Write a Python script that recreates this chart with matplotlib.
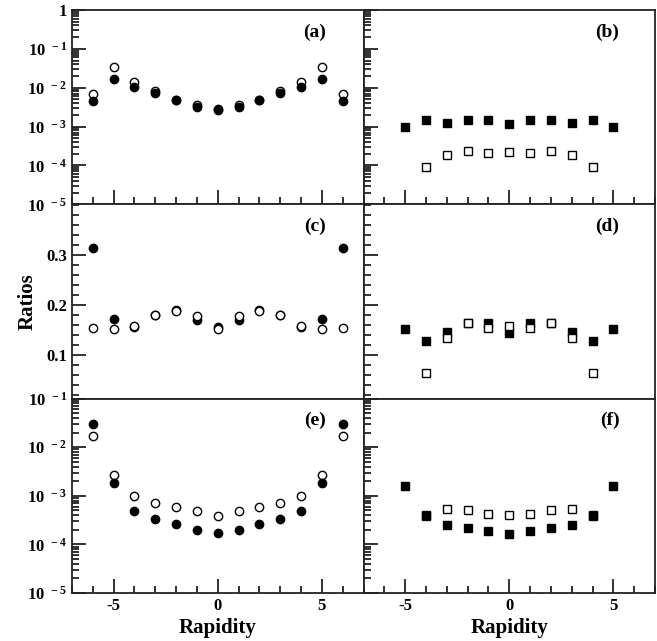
import math
import matplotlib
matplotlib.use("Agg")
import matplotlib.pyplot as plt
from matplotlib.ticker import FixedLocator, LogLocator, MultipleLocator, FuncFormatter, NullFormatter

plt.rcParams['font.family'] = ['Liberation Serif', 'DejaVu Serif']
plt.rcParams['font.weight'] = 'bold'
plt.rcParams['mathtext.fontset'] = 'custom'
plt.rcParams['mathtext.rm'] = 'Liberation Serif:bold'
plt.rcParams['mathtext.bf'] = 'Liberation Serif:bold'

# rapidity bins
y_c = [-6, -5, -4, -3, -2, -1, 0, 1, 2, 3, 4, 5, 6]
y_s = [-5, -4, -3, -2, -1, 0, 1, 2, 3, 4, 5]
y_s_open = [-4, -3, -2, -1, 0, 1, 2, 3, 4]

# (a)
a_full = [4.5e-3, 0.0164, 0.0102, 7.4e-3, 4.8e-3, 3.2e-3, 2.75e-3, 3.2e-3, 4.8e-3, 7.4e-3, 0.0102, 0.0164, 4.5e-3]
a_open = [6.8e-3, 0.0346, 0.0142, 8.3e-3, 4.8e-3, 3.6e-3, 2.8e-3, 3.6e-3, 4.8e-3, 8.3e-3, 0.0142, 0.0346, 6.8e-3]
# (b)
b_full = [9.8e-4, 1.46e-3, 1.25e-3, 1.46e-3, 1.46e-3, 1.2e-3, 1.46e-3, 1.46e-3, 1.27e-3, 1.5e-3, 9.8e-4]
b_open = [9.2e-5, 1.83e-4, 2.37e-4, 2.1e-4, 2.19e-4, 2.1e-4, 2.37e-4, 1.83e-4, 9.2e-5]
# (c)
c_full = [0.315, 0.172, 0.155, 0.18, 0.19, 0.17, 0.155, 0.17, 0.19, 0.18, 0.155, 0.172, 0.315]
c_open = [0.153, 0.152, 0.158, 0.18, 0.188, 0.177, 0.151, 0.177, 0.188, 0.18, 0.158, 0.152, 0.153]
# (d)
d_full = [0.151, 0.128, 0.145, 0.163, 0.163, 0.143, 0.163, 0.163, 0.145, 0.128, 0.151]
d_open = [0.063, 0.133, 0.163, 0.153, 0.157, 0.153, 0.163, 0.133, 0.063]
# (e)
e_full = [0.0305, 1.82e-3, 4.97e-4, 3.3e-4, 2.6e-4, 2.0e-4, 1.75e-4, 2.0e-4, 2.6e-4, 3.3e-4, 4.97e-4, 1.82e-3, 0.0305]
e_open = [0.0167, 2.71e-3, 1.0e-3, 7.06e-4, 5.84e-4, 4.9e-4, 3.9e-4, 4.9e-4, 5.84e-4, 7.06e-4, 1.0e-3, 2.71e-3, 0.0167]
# (f)
f_full = [1.61e-3, 3.94e-4, 2.52e-4, 2.16e-4, 1.93e-4, 1.62e-4, 1.93e-4, 2.16e-4, 2.52e-4, 3.94e-4, 1.61e-3]
f_open = [3.9e-4, 5.3e-4, 5.2e-4, 4.19e-4, 3.98e-4, 4.19e-4, 5.2e-4, 5.3e-4, 3.9e-4]

panel_labels = ['(a)', '(b)', '(c)', '(d)', '(e)', '(f)']


def logfmt(v, pos):
    if abs(v - 1) < 1e-9:
        return '1'
    e = int(round(math.log10(v)))
    return r'$\mathbf{10^{\ %d}}$' % e


fig, axes = plt.subplots(3, 2, figsize=(6.57, 6.41), dpi=100, sharex=True)
fig.subplots_adjust(left=0.1096, right=0.997, top=0.9844, bottom=0.0749, hspace=0, wspace=0)

spine_col = '#222222'
for i, row in enumerate(axes):
    for j, ax in enumerate(row):
        for s in ax.spines.values():
            s.set_linewidth(1.3)
            s.set_color(spine_col)
        ax.set_xlim(-7, 7)
        ax.xaxis.set_major_locator(FixedLocator([-5, 0, 5]))
        ax.xaxis.set_minor_locator(MultipleLocator(1))
        ax.tick_params(axis='both', which='both', direction='in', color=spine_col,
                       top=False, right=False, width=1.3, labelsize=12)
        ax.tick_params(axis='both', which='major', length=10)
        ax.tick_params(axis='both', which='minor', length=5)
        if i == 1:
            ax.tick_params(axis='x', which='both', bottom=False, labelbottom=False)
        if i == 0:
            ax.tick_params(axis='x', which='both', labelbottom=False)
        if j == 1:
            ax.tick_params(axis='y', which='both', labelleft=False)
        lx = 0.872 if j == 0 else 0.878
        ax.text(lx, 0.887, panel_labels[2 * i + j], transform=ax.transAxes,
                ha='right', va='center', fontsize=14, fontweight='bold')

# circles (left) and squares (right)
ms = 6
axes[0, 0].plot(y_c, a_open, 'o', ms=ms, mfc='white', mec='black', mew=1.0)
axes[0, 0].plot(y_c, a_full, 'o', ms=ms, color='black')
axes[0, 1].plot(y_s, b_full, 's', ms=ms, color='black')
axes[0, 1].plot(y_s_open, b_open, 's', ms=ms - 0.5, mfc='white', mec='black', mew=1.0)

axes[1, 0].plot(y_c, c_full, 'o', ms=ms, color='black')
axes[1, 0].plot(y_c, c_open, 'o', ms=ms, mfc='white', mec='black', mew=1.0)
axes[1, 1].plot(y_s, d_full, 's', ms=ms, color='black')
axes[1, 1].plot(y_s_open, d_open, 's', ms=ms - 0.5, mfc='white', mec='black', mew=1.0)

axes[2, 0].plot(y_c, e_open, 'o', ms=ms, mfc='white', mec='black', mew=1.0)
axes[2, 0].plot(y_c, e_full, 'o', ms=ms, color='black')
axes[2, 1].plot(y_s_open, f_open, 's', ms=ms - 0.5, mfc='white', mec='black', mew=1.0)
axes[2, 1].plot(y_s, f_full, 's', ms=ms, color='black')

for j in range(2):
    for i, lim in [(0, (1e-5, 1)), (2, (1e-5, 1e-1))]:
        ax = axes[i, j]
        ax.set_yscale('log')
        ax.set_ylim(*lim)
        ax.yaxis.set_major_locator(LogLocator(base=10, numticks=100))
        ax.yaxis.set_minor_locator(LogLocator(base=10, subs=range(2, 10), numticks=100))
        ax.yaxis.set_minor_formatter(NullFormatter())
        ax.yaxis.set_major_formatter(FuncFormatter(logfmt))
    ax = axes[1, j]
    ax.set_ylim(0.012, 0.402)
    ax.yaxis.set_major_locator(FixedLocator([0.1, 0.2, 0.3]))
    ax.yaxis.set_minor_locator(MultipleLocator(0.02))
    ax.yaxis.set_major_formatter(FuncFormatter(lambda v, p: '%.1f' % v))

for j in range(2):
    axes[2, j].set_xlabel('Rapidity', fontsize=15, fontweight='bold', labelpad=3)
    axes[2, j].xaxis.set_major_formatter(FuncFormatter(lambda v, p: '%d' % v))
axes[1, 0].set_ylabel('Ratios', fontsize=15, fontweight='bold', labelpad=6)

fig.savefig('out.png', dpi=100)
